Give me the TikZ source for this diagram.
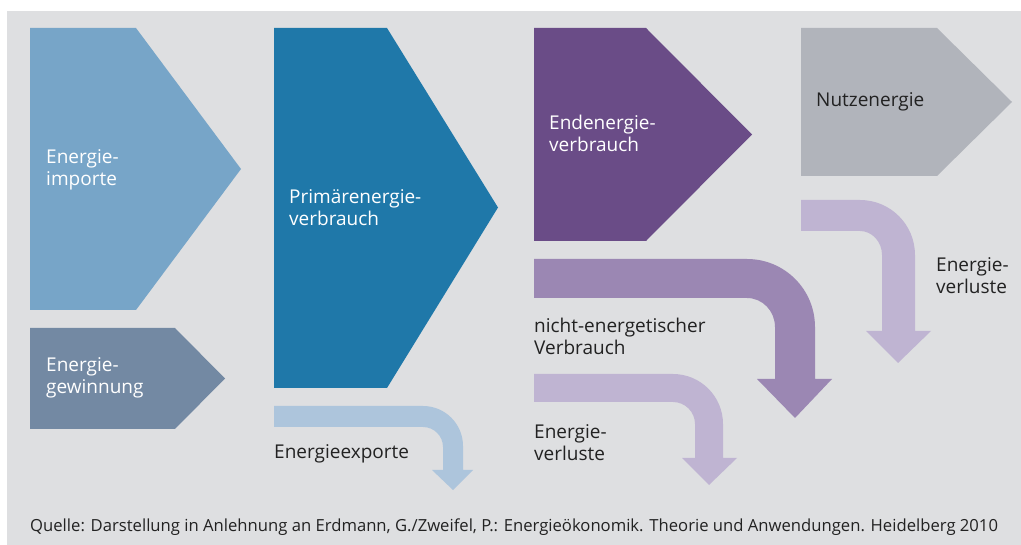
\documentclass[tikz,border=0pt]{standalone}
\usepackage{fontspec}
\setmainfont{Open Sans}
\definecolor{bg}{HTML}{DEDFE1}
\definecolor{cimp}{HTML}{77A5C8}
\definecolor{cgew}{HTML}{7389A3}
\definecolor{cprim}{HTML}{1F78A9}
\definecolor{cexp}{HTML}{ADC5DC}
\definecolor{cend}{HTML}{6A4C87}
\definecolor{cnutz}{HTML}{B1B4BB}
\definecolor{cnicht}{HTML}{9B87B3}
\definecolor{cverl}{HTML}{BFB4D2}
\definecolor{ctext}{HTML}{222222}
\begin{document}
\begin{tikzpicture}[x=1pt,y=-1pt,
  lbl/.style={anchor=west,inner sep=0pt,align=left,font=\fontsize{19}{22}\selectfont},
  wlbl/.style={lbl,text=white},
  dlbl/.style={lbl,text=ctext},
  foot/.style={anchor=west,inner sep=0pt,text=ctext,font=\fontsize{16.65}{20}\selectfont}]
\useasboundingbox (0,0) rectangle (1021,545);
\fill[white] (0,0) rectangle (1021,545);
\fill[bg] (7,11) rectangle (1021,545);
% chevrons
\fill[cimp] (30,28) -- (136,28) -- (241,169) -- (136,310) -- (30,310) -- cycle;
\fill[cgew] (30,328) -- (175,328) -- (225,378.5) -- (175,429) -- (30,429) -- cycle;
\fill[cprim] (274,28) -- (387,28) -- (498,207.5) -- (387,388) -- (274,388) -- cycle;
\fill[cend] (534,28) -- (646,28) -- (752,134.5) -- (646,241) -- (534,241) -- cycle;
\fill[cnutz] (801,28) -- (937,28) -- (1012,102) -- (937,176) -- (801,176) -- cycle;
% bent arrows
\fill[cexp] (274,406) -- (423,406) .. controls +(22.1,0) and +(0,-22.1) .. (463,446)
  -- (463,470) -- (473,470) -- (453,490) -- (432,470) -- (443,470) -- (443,447)
  .. controls +(0,-11) and +(11,0) .. (423,427) -- (274,427) -- cycle;
\fill[cnicht] (534,259) -- (747,259) .. controls +(37.6,0) and +(0,-37.6) .. (815,327)
  -- (815,379) -- (832,379) -- (795,418) -- (757,379) -- (775,379) -- (775,327)
  .. controls +(0,-16) and +(15.5,0) .. (747,298) -- (534,298) -- cycle;
\fill[cverl] (534,374) -- (673,374) .. controls +(27.6,0) and +(0,-27.6) .. (723,424)
  -- (723,458) -- (737,458) -- (709,485) -- (682,458) -- (695,458) -- (695,424)
  .. controls +(0,-12.1) and +(12.1,0) .. (673,402) -- (534,402) -- cycle;
\fill[cverl] (801,200) -- (860,200) .. controls +(30.4,0) and +(0,-30.4) .. (915,255)
  -- (915,331) -- (931,331) -- (898,363) -- (866,331) -- (882,331) -- (882,255)
  .. controls +(0,-13.2) and +(12.1,0) .. (860,231) -- (801,231) -- cycle;
% labels
\node[wlbl] (imp) at (46,169.5) {Energie-\\importe};
\node[wlbl] (gew) at (46,378) {Energie-\\gewinnung};
\node[wlbl] (prim) at (289,207.5) {Primärenergie-\\verbrauch};
\node[wlbl] (end) at (549,133.5) {Endenergie-\\verbrauch};
\node[dlbl] (nutz) at (816,102) {Nutzenergie};
\node[dlbl] (exp) at (274,453.7) {Energieexporte};
\node[dlbl] (nicht) at (534,336) {nicht-energetischer\\Verbrauch};
\node[dlbl] (verl1) at (534,443) {Energie-\\verluste};
\node[dlbl] (verl2) at (936,276) {Energie-\\verluste};
\node[foot] (quelle) at (30,527) {Quelle: Darstellung in Anlehnung an Erdmann, G./Zweifel, P.: Energieökonomik. Theorie und Anwendungen. Heidelberg 2010};
\end{tikzpicture}
\end{document}
